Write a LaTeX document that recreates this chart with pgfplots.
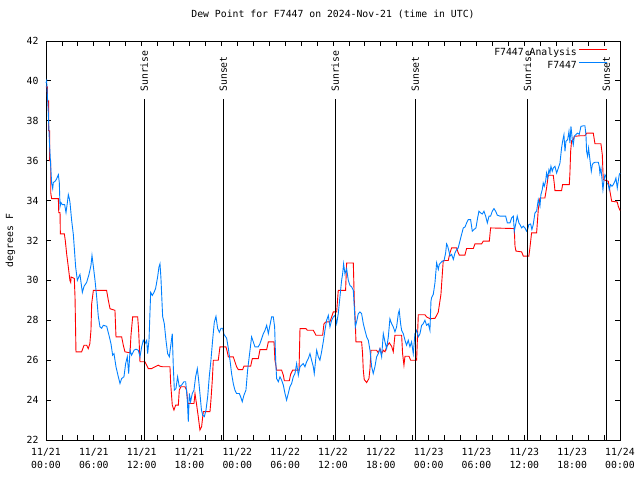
\documentclass[border=0pt]{standalone}
\usepackage{fontspec}
\setmainfont{DejaVu Sans Mono}
\usepackage{pgfplots}
\pgfplotsset{compat=1.18}
\newcommand\gfont{\fontsize{9.8}{12.5}\selectfont}
\definecolor{gred}{RGB}{255,0,0}
\definecolor{gblue}{RGB}{0,128,255}
\begin{document}
\begin{tikzpicture}
\begin{axis}[
  scale only axis, width=574pt, height=399pt,
  xmin=0, xmax=72, ymin=22, ymax=42,
  xtick={0,6,...,72},
  minor xtick={2,4,8,10,14,16,20,22,26,28,32,34,38,40,44,46,50,52,56,58,62,64,68,70},
  xticklabels={{11/21\\00:00},{11/21\\06:00},{11/21\\12:00},{11/21\\18:00},{11/22\\00:00},{11/22\\06:00},{11/22\\12:00},{11/22\\18:00},{11/23\\00:00},{11/23\\06:00},{11/23\\12:00},{11/23\\18:00},{11/24\\00:00}},
  ytick={22,24,...,42},
  tick align=inside, xtick pos=both, ytick pos=both,
  major tick length=5pt, minor tick length=5pt,
  tick style={black, line width=0.8pt},
  axis line style={black, line width=0.9pt},
  /pgf/number format/assume math mode=true,
  every tick label/.append style={font=\gfont},
  xticklabel style={align=center, yshift=-5pt},
  yticklabel style={xshift=-4pt},
  ylabel={degrees F},
  ylabel style={font=\gfont, at={(axis description cs:-0.0618,0.5)}, anchor=center},
  title={Dew Point for F7447 on 2024-Nov-21 (time in UTC)},
  title style={font=\gfont, at={(axis description cs:0.5,1)}, anchor=center, yshift=21pt},
  legend style={draw=none, fill=none, font=\gfont, at={(rel axis cs:1,1)}, anchor=north east, xshift=-9pt, yshift=-3pt, row sep=0pt},
  legend cell align=right, legend plot pos=right,
  legend image code/.code={\draw[#1] (5pt,0.35em) -- (33pt,0.35em);},
  clip=false,
]
% analysis
\addplot[gred, line width=0.9pt] coordinates {
(0.00,39.7) (0.17,39.7) (0.17,39.0) (0.33,39.0) (0.33,37.5) (0.46,37.5) (0.46,36.0) (0.59,36.0) (0.59,34.4) (0.71,34.1)
(1.55,34.1) (1.60,33.4) (1.76,33.4) (1.80,32.33) (2.30,32.33) (2.42,32.0) (2.60,31.3) (2.80,30.67) (3.00,30.0) (3.10,29.9)
(3.15,30.17) (3.55,30.1) (3.64,29.17) (3.76,26.42) (4.47,26.42) (4.77,26.75) (5.10,26.75) (5.30,26.58) (5.50,26.83) (5.64,27.5)
(5.73,28.83) (5.94,29.5) (7.60,29.5) (7.82,29.0) (8.03,28.58) (8.65,28.5) (8.78,27.17) (9.49,27.17) (9.70,26.75) (9.90,26.42)
(10.54,26.37) (10.66,27.25) (10.87,28.17) (11.50,28.17) (11.62,27.5) (11.79,25.92) (12.42,25.92) (12.83,25.58) (13.25,25.58) (13.67,25.67)
(14.09,25.75) (14.30,25.7) (14.63,25.67) (15.55,25.67) (15.64,24.83) (15.84,23.75) (16.05,23.5) (16.26,23.75) (16.60,23.75) (16.72,24.5)
(16.93,24.67) (17.43,24.67) (17.64,24.5) (17.80,23.83) (18.56,23.83) (18.69,24.33) (18.90,23.75) (19.10,23.17) (19.31,22.5) (19.52,22.67)
(19.73,23.42) (20.57,23.42) (20.69,24.0) (20.86,25.0) (20.99,26.0) (21.61,26.0) (21.82,26.67) (22.57,26.67) (22.74,26.42) (22.87,26.17)
(23.49,26.17) (23.70,25.92) (23.91,25.67) (24.12,25.53) (24.67,25.53) (24.83,25.7) (25.67,25.7) (25.88,26.08) (26.63,26.08) (26.84,26.53)
(27.68,26.53) (27.89,26.92) (28.60,26.92) (28.72,26.0) (28.93,25.5) (29.56,25.5) (29.77,25.25) (29.90,24.97) (30.52,24.97) (30.69,25.3)
(30.94,25.5) (31.74,25.5) (31.86,27.58) (32.62,27.58) (32.78,27.5) (33.53,27.5) (33.87,27.25) (34.70,27.25) (34.87,27.83) (35.12,27.92)
(35.62,27.92) (35.83,28.17) (36.04,28.42) (36.46,28.42) (36.66,29.5) (37.58,29.5) (37.71,30.87) (38.55,30.87) (38.67,29.0) (38.80,27.92)
(38.88,26.92) (39.59,26.92) (39.71,26.33) (39.80,25.5) (39.92,25.03) (40.22,24.88) (40.51,25.08) (40.64,25.58) (40.76,26.5) (41.47,26.5)
(41.68,26.37) (41.89,26.58) (42.10,26.33) (42.31,26.5) (42.52,26.42) (42.73,26.67) (43.06,26.87) (43.35,26.7) (43.56,26.42) (43.77,27.25)
(44.61,27.25) (44.73,26.33) (44.90,25.75) (45.03,26.2) (45.53,26.2) (45.74,26.0) (46.49,26.0) (46.70,28.28) (47.53,28.28) (47.74,28.17)
(48.16,28.08) (48.80,28.1) (49.20,28.4) (49.54,29.3) (49.71,30.3) (49.83,31.0) (50.46,31.0) (50.67,31.38) (50.88,31.63) (51.51,31.63)
(51.71,31.38) (51.84,31.27) (52.55,31.27) (52.76,31.6) (53.60,31.6) (53.81,31.83) (54.64,31.83) (54.85,31.97) (55.61,31.97) (55.77,32.63)
(58.74,32.6) (58.83,31.72) (58.95,31.47) (59.66,31.43) (59.87,31.22) (60.57,31.22) (60.70,31.63) (60.91,32.38) (61.54,32.38) (61.75,33.55)
(61.96,34.13) (62.58,34.13) (62.79,34.63) (63.00,35.27) (63.63,35.27) (63.75,34.88) (63.84,34.5) (64.67,34.5) (64.80,34.8) (65.64,34.8)
(65.72,35.38) (65.81,36.47) (65.93,37.0) (66.14,37.05) (66.27,37.22) (66.98,37.25) (67.60,37.25) (67.81,37.38) (68.65,37.38) (68.86,36.85)
(69.61,36.85) (69.78,36.3) (69.90,35.05) (70.53,34.97) (70.74,34.47) (70.95,33.97) (71.66,33.93) (71.78,33.72) (72.00,33.5)
};
\addlegendentry{F7447 Analysis}
% observations
\addplot[gblue, line width=0.9pt] coordinates {
(0.00,39.9) (0.08,40.0) (0.17,39.3) (0.29,38.4) (0.42,37.0) (0.58,35.8) (0.71,34.87) (0.84,34.6) (0.92,34.9) (1.21,35.0)
(1.34,35.1) (1.55,35.3) (1.67,34.9) (1.76,33.7) (1.88,33.9) (2.05,33.8) (2.34,33.8) (2.51,33.4) (2.68,33.9) (2.80,34.3)
(2.93,34.1) (3.01,33.9) (3.22,33.0) (3.43,32.3) (3.72,30.67) (3.93,30.0) (4.14,30.2) (4.26,30.3) (4.56,29.4) (4.77,29.7)
(5.10,29.9) (5.39,30.3) (5.64,30.75) (5.77,31.25) (5.94,30.7) (6.15,30.0) (6.35,29.2) (6.56,28.2) (6.77,27.67) (6.98,27.6)
(7.19,27.75) (7.61,27.7) (7.90,27.25) (8.15,26.83) (8.36,26.25) (8.53,26.33) (8.78,25.67) (9.07,25.17) (9.28,24.83) (9.49,25.08)
(9.78,25.17) (9.99,25.83) (10.20,26.17) (10.37,25.33) (10.54,26.5) (10.74,26.25) (11.04,26.5) (11.29,26.55) (11.58,26.5) (11.79,26.17)
(12.00,26.67) (12.20,27.0) (12.42,26.83) (12.63,27.0) (12.75,26.33) (12.92,27.0) (13.13,29.4) (13.34,29.25) (13.55,29.4) (13.75,29.6)
(14.00,30.17) (14.17,30.67) (14.30,30.83) (14.42,30.1) (14.63,28.2) (14.84,27.83) (15.05,27.0) (15.26,26.33) (15.47,26.17) (15.68,26.83)
(15.84,27.33) (15.97,25.67) (16.10,24.5) (16.30,24.58) (16.51,25.17) (16.72,24.67) (17.00,24.75) (17.30,24.92) (17.52,24.92) (17.73,24.0)
(17.85,22.92) (17.98,24.33) (18.14,23.92) (18.35,24.33) (18.56,24.5) (18.77,25.17) (18.98,25.58) (19.15,25.0) (19.31,24.33) (19.50,23.5)
(19.65,23.25) (19.86,23.17) (20.07,23.5) (20.28,24.17) (20.48,25.17) (20.69,26.0) (20.90,27.0) (21.11,27.9) (21.32,28.2) (21.53,27.6)
(21.74,27.4) (21.95,27.6) (22.16,27.6) (22.32,27.3) (22.66,27.1) (22.87,26.6) (23.08,26.0) (23.28,25.33) (23.49,24.83) (23.70,24.5)
(23.91,24.33) (24.25,24.33) (24.41,24.17) (24.62,23.92) (24.83,24.25) (25.08,24.5) (25.29,25.5) (25.59,26.5) (25.79,27.17) (26.00,26.92)
(26.21,26.67) (26.63,26.67) (26.84,26.83) (27.05,27.08) (27.26,27.33) (27.47,27.5) (27.68,27.75) (27.89,27.33) (28.09,27.75) (28.30,28.17)
(28.51,28.17) (28.68,27.67) (28.81,26.0) (28.93,25.08) (29.14,24.92) (29.35,25.17) (29.56,25.0) (29.77,24.75) (29.98,24.33) (30.18,24.0)
(30.39,24.33) (30.60,24.67) (30.81,24.83) (31.02,25.17) (31.23,25.33) (31.44,25.83) (31.65,25.25) (31.86,25.67) (32.07,25.75) (32.27,25.83)
(32.48,25.67) (32.69,25.92) (32.90,26.08) (33.11,26.33) (33.32,26.0) (33.53,25.67) (33.65,25.33) (33.82,26.0) (33.95,26.5) (34.16,26.17)
(34.36,26.0) (34.57,26.42) (34.78,26.92) (34.99,27.5) (35.20,28.0) (35.41,28.25) (35.62,27.67) (35.83,28.0) (36.04,28.17) (36.25,28.25)
(36.46,27.83) (36.66,28.33) (36.87,29.17) (37.08,30.0) (37.21,30.33) (37.33,30.83) (37.50,30.33) (37.71,30.58) (37.92,30.0) (38.13,29.75)
(38.34,29.67) (38.55,29.5) (38.67,28.67) (38.80,27.67) (38.96,27.92) (39.17,28.33) (39.38,28.42) (39.59,28.33) (39.80,27.83) (40.01,27.5)
(40.22,27.17) (40.43,27.0) (40.64,26.5) (40.85,25.67) (41.05,25.33) (41.26,25.67) (41.47,26.17) (41.68,26.33) (41.89,26.58) (42.10,26.17)
(42.31,27.33) (42.52,26.92) (42.73,26.58) (42.94,27.17) (43.14,28.08) (43.35,27.83) (43.56,27.67) (43.77,27.42) (43.98,27.67) (44.19,28.33)
(44.31,28.5) (44.48,27.83) (44.61,27.5) (44.82,27.33) (45.03,27.0) (45.23,26.75) (45.44,27.0) (45.65,26.67) (45.86,26.92) (46.07,26.33)
(46.28,27.33) (46.49,27.5) (46.70,27.17) (46.91,27.33) (47.12,27.75) (47.32,27.83) (47.53,28.0) (47.74,27.75) (47.95,27.83) (48.16,27.5)
(48.29,28.97) (48.37,29.13) (48.58,29.3) (48.79,29.88) (49.00,30.88) (49.21,30.55) (49.33,30.8) (49.50,30.88) (49.71,30.97) (49.92,30.97)
(50.13,31.38) (50.25,31.83) (50.38,31.72) (50.54,31.47) (50.67,31.22) (50.88,31.3) (51.09,31.05) (51.30,31.38) (51.51,31.55) (51.71,31.63)
(51.92,31.97) (52.13,32.3) (52.34,32.63) (52.55,32.67) (52.76,32.88) (52.97,33.05) (53.26,33.05) (53.47,32.47) (53.68,32.55) (53.93,32.63)
(54.14,33.13) (54.31,33.47) (54.52,33.38) (54.73,33.33) (54.94,33.47) (55.15,33.22) (55.36,32.88) (55.57,33.22) (55.77,33.22) (55.98,33.47)
(56.19,33.6) (56.40,33.47) (56.61,33.27) (56.95,33.22) (57.36,33.22) (57.66,33.22) (57.87,32.88) (58.20,32.88) (58.41,33.13) (58.62,33.22)
(58.74,32.47) (58.91,32.8) (59.11,33.22) (59.32,32.88) (59.45,32.8) (59.66,32.63) (59.87,32.72) (60.08,32.63) (60.28,32.47) (60.41,32.55)
(60.57,32.8) (60.79,32.83) (60.95,32.55) (61.12,32.8) (61.33,33.38) (61.54,33.47) (61.75,34.05) (61.96,33.72) (62.08,34.3) (62.25,34.55)
(62.37,34.88) (62.50,34.72) (62.67,34.97) (62.79,35.38) (62.92,35.13) (63.09,35.55) (63.21,35.38) (63.34,35.72) (63.50,35.47) (63.63,35.63)
(63.84,35.72) (64.05,35.38) (64.26,35.63) (64.47,35.88) (64.67,36.63) (64.80,36.97) (64.97,37.3) (65.10,36.47) (65.22,36.97) (65.43,37.05)
(65.60,37.47) (65.72,36.88) (65.85,37.72) (66.02,37.05) (66.14,36.8) (66.27,37.22) (66.44,37.3) (66.65,37.38) (66.90,37.33) (67.10,37.72)
(67.39,37.75) (67.60,37.75) (67.73,37.3) (67.81,36.47) (67.94,36.22) (68.06,36.63) (68.23,36.05) (68.40,35.47) (68.53,35.8) (68.65,35.88)
(68.86,35.92) (69.28,35.92) (69.40,35.72) (69.48,35.38) (69.61,35.63) (69.73,35.13) (69.86,34.55) (69.98,34.97) (70.11,35.3) (70.24,35.22)
(70.36,34.88) (70.53,34.8) (70.65,34.55) (70.82,34.8) (70.99,34.72) (71.15,34.8) (71.36,34.97) (71.49,35.13) (71.66,34.63) (71.78,34.97)
(71.91,35.3) (72.00,35.38)
};
\addlegendentry{F7447}
% sunrise / sunset lines
\addplot[black, line width=0.9pt, forget plot] coordinates {(12.33,22) (12.33,39.08)};
\addplot[black, line width=0.9pt, forget plot] coordinates {(22.24,22) (22.24,39.08)};
\addplot[black, line width=0.9pt, forget plot] coordinates {(36.29,22) (36.29,39.08)};
\addplot[black, line width=0.9pt, forget plot] coordinates {(46.33,22) (46.33,39.08)};
\addplot[black, line width=0.9pt, forget plot] coordinates {(60.38,22) (60.38,39.08)};
\addplot[black, line width=0.9pt, forget plot] coordinates {(70.29,22) (70.29,39.08)};
\node[rotate=90, anchor=west, font=\gfont, inner sep=0pt] at (axis cs:12.33,39.45) {Sunrise};
\node[rotate=90, anchor=west, font=\gfont, inner sep=0pt] at (axis cs:22.24,39.45) {Sunset};
\node[rotate=90, anchor=west, font=\gfont, inner sep=0pt] at (axis cs:36.29,39.45) {Sunrise};
\node[rotate=90, anchor=west, font=\gfont, inner sep=0pt] at (axis cs:46.33,39.45) {Sunset};
\node[rotate=90, anchor=west, font=\gfont, inner sep=0pt] at (axis cs:60.38,39.45) {Sunrise};
\node[rotate=90, anchor=west, font=\gfont, inner sep=0pt] at (axis cs:70.29,39.45) {Sunset};
\end{axis}
\path (current axis.south west) ++(-46pt,-40pt) rectangle ++(640pt,480pt);
\end{tikzpicture}
\end{document}
